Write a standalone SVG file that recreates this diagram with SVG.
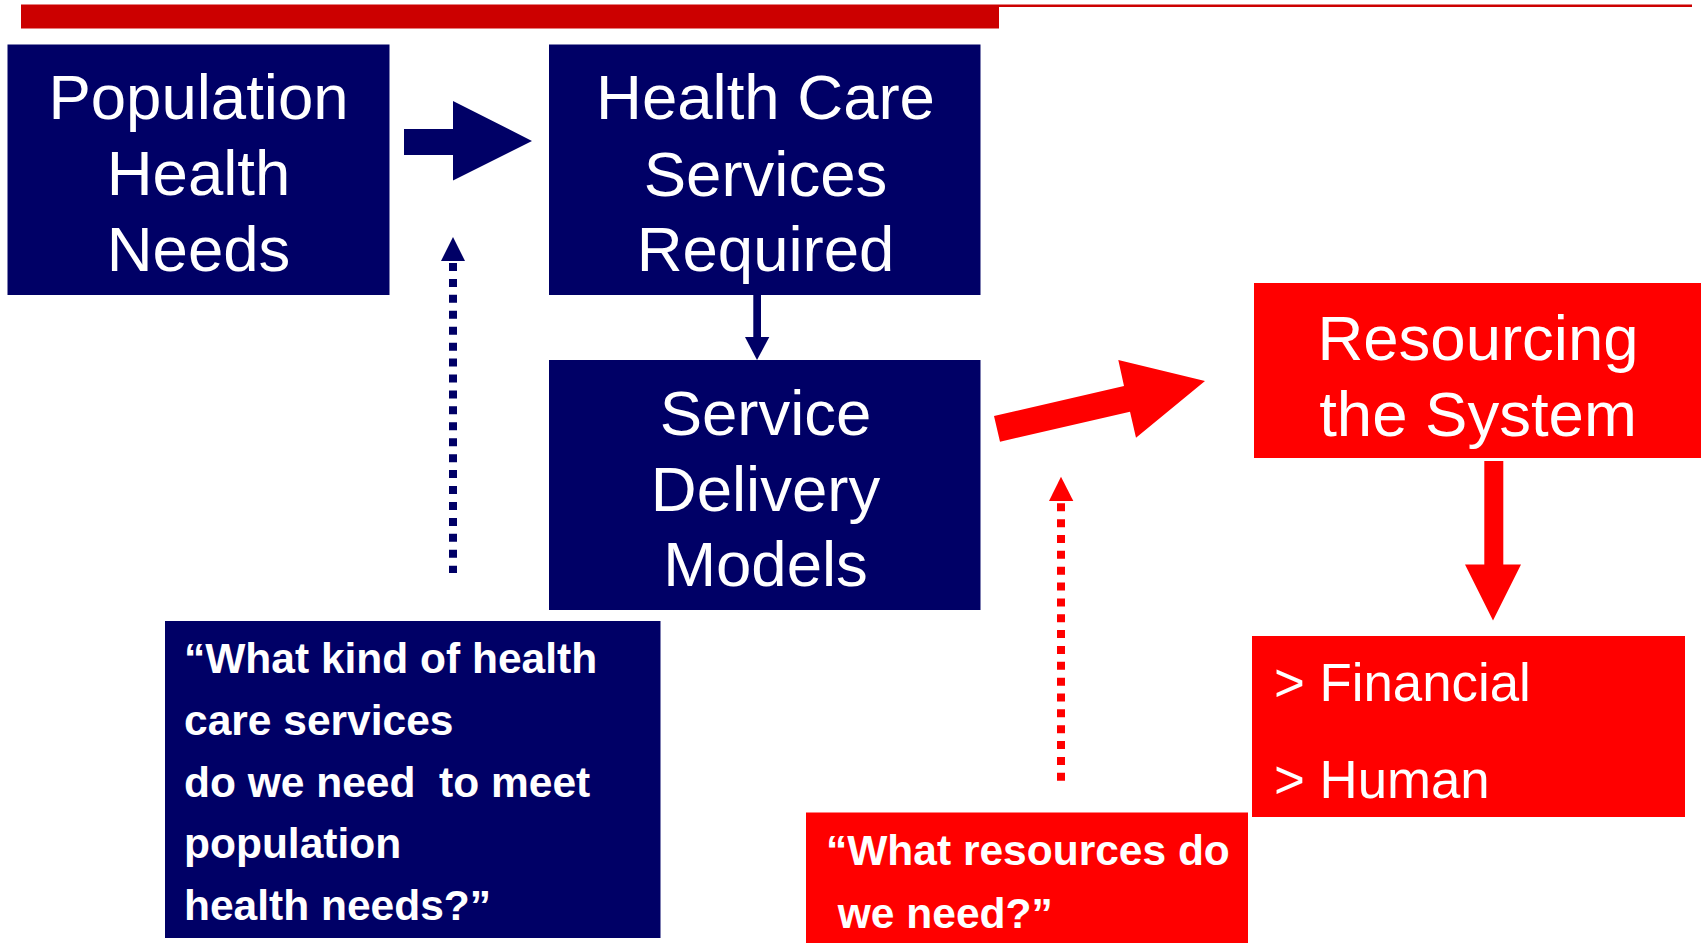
<svg xmlns="http://www.w3.org/2000/svg" width="1701" height="943" viewBox="0 0 1701 943">
  <style>
    .navy { fill: #000066; }
    .red { fill: #FF0000; }
    .title { font-family: "Liberation Sans", Arial, sans-serif; font-size: 63.5px; fill: #FFFFFF; text-anchor: middle; }
    .list { font-family: "Liberation Sans", Arial, sans-serif; font-size: 52.8px; fill: #FFFFFF; }
    .q { font-family: "Liberation Sans", Arial, sans-serif; font-size: 42.5px; font-weight: bold; fill: #FFFFFF; white-space: pre; }
    .dotNavy { stroke: #000066; stroke-width: 8; stroke-dasharray: 8 7.93; fill: none; }
    .dotRed { stroke: #FF0000; stroke-width: 8; stroke-dasharray: 8 7.85; fill: none; }
  </style>

  <!-- header rule -->
  <g id="header">
    <rect x="21" y="4.5" width="1671" height="2.5" fill="#CC0000"/>
    <rect x="21" y="5" width="978" height="23.5" fill="#CC0000"/>
  </g>

  <!-- nodes -->
  <g id="population-health-needs">
    <rect class="navy" x="7.5" y="44.5" width="382" height="250.5"/>
    <text class="title" x="198.5" y="118.5">Population</text>
    <text class="title" x="198.5" y="195">Health</text>
    <text class="title" x="198.5" y="271">Needs</text>
  </g>

  <g id="health-care-services">
    <rect class="navy" x="549" y="44.5" width="431.5" height="250.5"/>
    <text class="title" x="765.5" y="118.5">Health Care</text>
    <text class="title" x="765.5" y="195.5">Services</text>
    <text class="title" x="765.5" y="271">Required</text>
  </g>

  <g id="service-delivery-models">
    <rect class="navy" x="549" y="360" width="431.5" height="250"/>
    <text class="title" x="765.5" y="434.5">Service</text>
    <text class="title" x="765.5" y="510.5">Delivery</text>
    <text class="title" x="765.5" y="586">Models</text>
  </g>

  <g id="resourcing-the-system">
    <rect class="red" x="1254" y="283" width="447" height="175"/>
    <text class="title" x="1478" y="360">Resourcing</text>
    <text class="title" x="1478" y="436">the System</text>
  </g>

  <g id="resource-types">
    <rect class="red" x="1252" y="636" width="433" height="181"/>
    <text class="list" x="1274" y="701">&gt; Financial</text>
    <text class="list" x="1274" y="798">&gt; Human</text>
  </g>

  <g id="question-services">
    <rect class="navy" x="165" y="621" width="495.5" height="317"/>
    <text class="q" x="184" y="672.5">“What kind of health</text>
    <text class="q" x="184" y="735">care services</text>
    <text class="q" x="184" y="796.5">do we need  to meet</text>
    <text class="q" x="184" y="858">population</text>
    <text class="q" x="184" y="919.5">health needs?”</text>
  </g>

  <g id="question-resources">
    <rect class="red" x="806" y="812.5" width="442" height="130.5"/>
    <text class="q" x="826" y="865">“What resources do</text>
    <text class="q" x="826" y="927.5"> we need?”</text>
  </g>

  <!-- connectors -->
  <g id="connectors">
    <!-- needs -> services (block arrow) -->
    <polygon class="navy" points="404,129 453,129 453,101 532,141 453,180.5 453,155 404,155"/>
    <!-- services -> delivery models -->
    <rect class="navy" x="753.3" y="295" width="7.7" height="42"/>
    <polygon class="navy" points="745,337 769.3,337 757,360"/>
    <!-- delivery models -> resourcing (block arrow) -->
    <polygon class="red" points="994,416 1124,386 1118.3,360 1205,381 1136,437.7 1130,411.7 1000,441.7"/>
    <!-- resourcing -> resource types -->
    <rect class="red" x="1484.3" y="461" width="19" height="104"/>
    <polygon class="red" points="1465,564.5 1521,564.5 1493,620.5"/>
    <!-- question prompts (dotted) -->
    <line class="dotNavy" x1="453" y1="263" x2="453" y2="573"/>
    <polygon class="navy" points="441,261 465,261 453,237"/>
    <line class="dotRed" x1="1061" y1="503.3" x2="1061" y2="781"/>
    <polygon class="red" points="1049,501 1073.3,501 1061,476.7"/>
  </g>
</svg>
